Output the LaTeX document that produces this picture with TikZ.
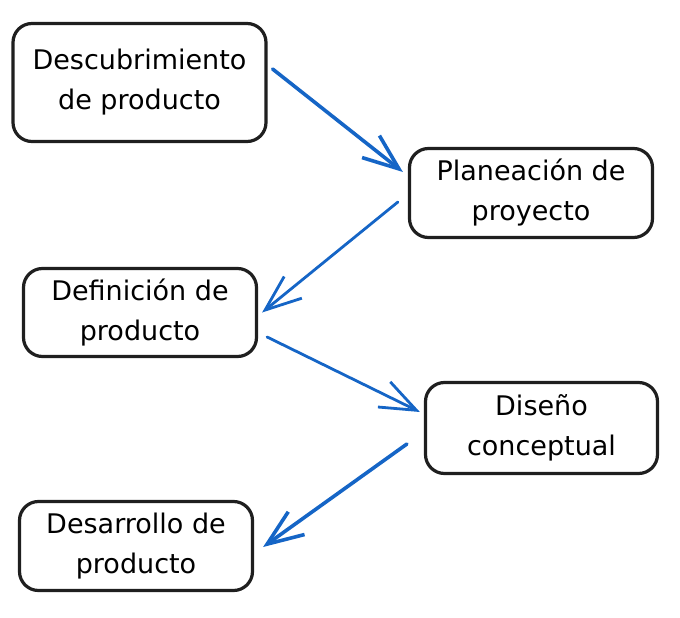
\documentclass[tikz,border=0pt]{standalone}
\usepackage{fontspec}
\setmainfont{DejaVu Sans}
\usetikzlibrary{arrows.meta}

\definecolor{flowblue}{HTML}{1565C6}

\begin{document}
\begin{tikzpicture}[x=1pt,y=-1pt,
  stage/.style={draw=black!88,line width=3.2pt,rounded corners=19pt,
    align=center,inner sep=0pt,font=\fontsize{27pt}{40pt}\selectfont},
  flow/.style={draw=flowblue,line width=#1,line cap=round,
    -{Straight Barb[length=36pt,width=28pt,line width=#1]}}]

\useasboundingbox (0,0) rectangle (680,618);

% The five stages, zig-zagging down the page
\node [stage,minimum width=253pt,minimum height=118pt] (d1) at (139.5,82.5) {Descubrimiento\\de producto};
\node [stage,minimum width=243pt,minimum height=89pt] (d2) at (531,193) {Planeación de\\proyecto};
\node [stage,minimum width=233pt,minimum height=88pt] (d3) at (140,312.5) {Definición de\\producto};
\node [stage,minimum width=232pt,minimum height=91pt] (d4) at (541.5,428) {Diseño\\conceptual};
\node [stage,minimum width=233pt,minimum height=89pt] (d5) at (136,546) {Desarrollo de\\producto};

% Arrows from one stage to the next
\foreach \a/\sa/\b/\sb/\lw in {
  d1.east/{5,-13.5}/d2.west/{-5,-21}/3.6pt,
  d2.west/{-10,9}/d3.east/{4,0}/2.8pt,
  d3.east/{9,24.5}/d4.west/{-4,-16}/2.8pt,
  d4.west/{-17,16}/d5.east/{9,1}/3.6pt} {
  \draw [flow=\lw] ([shift={(\sa)}]\a) -- ([shift={(\sb)}]\b);
}

\end{tikzpicture}
\end{document}
